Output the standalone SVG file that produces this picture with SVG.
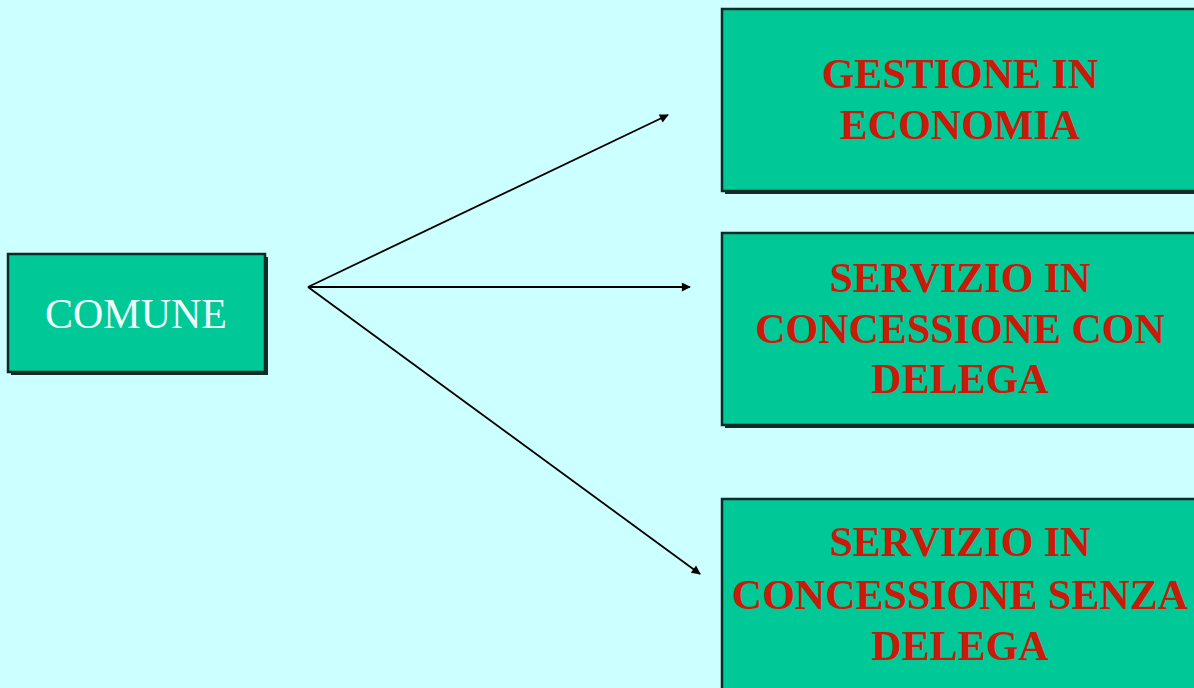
<svg xmlns="http://www.w3.org/2000/svg" width="1194" height="688" viewBox="0 0 1194 688">
  <defs>
    <marker id="arr" viewBox="0 0 10 10" refX="9" refY="5" markerWidth="11" markerHeight="9" orient="auto" markerUnits="userSpaceOnUse">
      <path d="M0,0 L10,5 L0,10 Z" fill="#000"/>
    </marker>
    <style>
      .shadow { fill: #1a2a28; }
      .box { fill: #00c896; stroke: #0d2b24; stroke-width: 2.5; }
      .lbl { font-family: "Liberation Serif", "Times New Roman", serif; font-size: 42px; text-anchor: middle; }
      .red { fill: #cc1a0a; font-weight: bold; }
      .white { fill: #eefefe; }
      .conn { stroke: #000; stroke-width: 1.8; fill: none; marker-end: url(#arr); }
    </style>
  </defs>
  <rect x="0" y="0" width="1194" height="688" fill="#ccffff"/>

  <g id="connectors">
    <line class="conn" x1="308" y1="287" x2="668" y2="115"/>
    <line class="conn" x1="308" y1="287" x2="690" y2="287"/>
    <line class="conn" x1="308" y1="287" x2="700" y2="574"/>
  </g>

  <g id="comune">
    <rect class="shadow" x="11" y="257" width="257" height="118"/>
    <rect class="box" x="8" y="254" width="257" height="118"/>
    <text class="lbl white" x="136" y="328">COMUNE</text>
  </g>

  <g id="gestione">
    <rect class="shadow" x="725" y="12" width="480" height="182"/>
    <rect class="box" x="722" y="9" width="480" height="182"/>
    <text class="lbl red" x="960" y="88">GESTIONE IN</text>
    <text class="lbl red" x="960" y="139">ECONOMIA</text>
  </g>

  <g id="con-delega">
    <rect class="shadow" x="725" y="236" width="480" height="192"/>
    <rect class="box" x="722" y="233" width="480" height="192"/>
    <text class="lbl red" x="960" y="292">SERVIZIO IN</text>
    <text class="lbl red" x="960" y="343">CONCESSIONE CON</text>
    <text class="lbl red" x="960" y="393">DELEGA</text>
  </g>

  <g id="senza-delega">
    <rect class="shadow" x="725" y="502" width="480" height="200"/>
    <rect class="box" x="722" y="499" width="480" height="200"/>
    <text class="lbl red" x="960" y="556">SERVIZIO IN</text>
    <text class="lbl red" x="960" y="609">CONCESSIONE SENZA</text>
    <text class="lbl red" x="960" y="660">DELEGA</text>
  </g>
</svg>
